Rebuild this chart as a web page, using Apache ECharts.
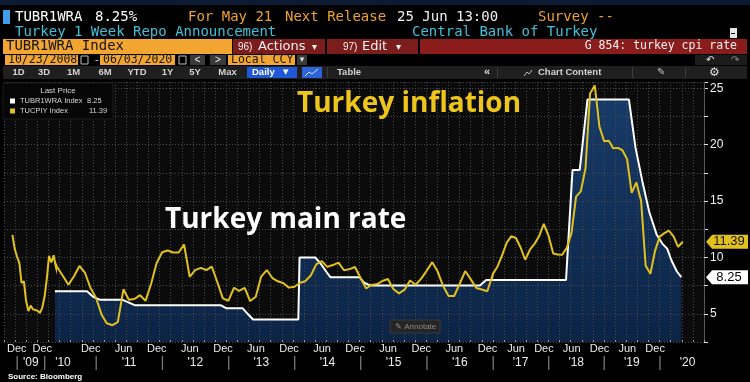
<!DOCTYPE html>
<html><head><meta charset="utf-8">
<script src="https://cdn.jsdelivr.net/npm/echarts@6/dist/echarts.min.js"></script>
<style>html,body{margin:0;padding:0;background:#000;}#c{width:750px;height:382px;}</style>
</head><body><div id="c"></div>
<script>
// ---------- DATA ----------
// TUCPIY Index (Turkey CPI YoY %), monthly observations (month-end)
const cpiFirstMonth = '2008-10';
const cpi2008 = [11.99, 10.76, 10.06];
const cpi2009 = [9.50, 7.73, 7.89, 6.13, 5.24, 5.73, 5.39, 5.33, 5.27, 5.08, 5.53, 6.53];
const cpi2010 = [8.19, 10.13, 9.56, 10.19, 9.10, 8.37, 7.58, 8.33, 9.24, 8.62, 7.29, 6.40];
const cpi2011 = [4.90, 4.16, 3.99, 4.26, 7.17, 6.24, 6.31, 6.65, 6.15, 7.66, 9.48, 10.45];
const cpi2012 = [10.61, 10.43, 10.43, 11.14, 8.28, 8.87, 9.07, 8.88, 9.19, 7.80, 6.37, 6.16];
const cpi2013 = [7.31, 7.03, 7.29, 6.13, 6.51, 8.30, 8.88, 8.17, 7.88, 7.71, 7.32, 7.40];
const cpi2014 = [7.75, 7.89, 8.39, 9.38, 9.66, 9.16, 9.32, 9.54, 8.86, 8.96, 9.15, 8.17];
const cpi2015 = [7.24, 7.55, 7.61, 7.91, 8.09, 7.20, 6.81, 7.14, 7.95, 7.58, 8.10, 8.81];
const cpi2016 = [9.58, 8.78, 7.46, 6.57, 6.58, 7.64, 8.79, 8.05, 7.28, 7.16, 7.00, 8.53];
const cpi2017 = [9.22, 10.13, 11.29, 11.87, 11.72, 10.90, 9.79, 10.68, 11.20, 11.90, 12.98, 11.92];
const cpi2018 = [10.35, 10.26, 10.23, 10.85, 12.15, 15.39, 15.85, 17.90, 24.52, 25.24, 21.62, 20.30];
const cpi2019 = [20.35, 19.67, 19.71, 19.50, 18.71, 15.72, 16.65, 15.01, 9.26, 8.55, 10.56, 11.84];
const cpi2020 = [12.15, 12.37, 11.86, 10.94, 11.39];

// TUBR1WRA Index (Turkey 1 Week Repo announcement), observation dates and values
const rateDates = ['2010-05-18','2010-11-11','2010-12-16','2011-01-20','2011-05-24','2011-08-04',
  '2012-11-20','2012-12-18','2013-03-19','2013-04-16','2013-05-16','2014-01-21','2014-01-28',
  '2014-04-24','2014-05-22','2014-06-24','2014-07-17','2014-12-25','2015-01-20','2015-02-24',
  '2016-10-20','2016-11-24','2018-04-25','2018-06-01','2018-06-07','2018-07-24','2018-09-13',
  '2019-06-12','2019-07-25','2019-09-12','2019-10-24','2019-12-12','2020-01-16','2020-02-19',
  '2020-03-17','2020-04-22','2020-05-21'];
const rateValues = [7.00,7.00,6.50,6.25,6.25,5.75,
  5.75,5.50,5.50,5.00,4.50,4.50,10.00,
  10.00,9.50,8.75,8.25,8.25,7.75,7.50,
  7.50,8.00,8.00,16.50,17.75,17.75,24.00,
  24.00,19.75,16.50,14.00,12.00,11.25,10.75,
  9.75,8.75,8.25];

// Axis settings
const yMin = 2.5, yMax = 25.55, yStep = 2.5;
// Bloomberg point-based axis: three time segments of different density
const segStarts = ['2008-10-23', '2010-05-18', '2016-12-31T12'];
const segEnds   = ['2010-05-18', '2016-12-31T12', '2020-10-17'];
const segLeft   = [4, 55, 493];
const segWidth  = [51, 438, 211];

// ---------- BUILD ----------
function parseD(s){
  const [dp, hp] = s.split('T');
  const p = dp.split('-').map(Number);
  return new Date(p[0], p[1]-1, p[2] || 1, hp ? Number(hp) : 0).getTime();
}
const cpiYears = [cpi2008,cpi2009,cpi2010,cpi2011,cpi2012,cpi2013,cpi2014,cpi2015,cpi2016,cpi2017,cpi2018,cpi2019,cpi2020];
const cpiData = [];
{
  let y = Number(cpiFirstMonth.slice(0,4)), m = Number(cpiFirstMonth.slice(5)) - 1;
  cpiYears.forEach(arr => arr.forEach(v => {
    cpiData.push([new Date(y, m + 1, 0).getTime(), v]);
    m++; if (m > 11) { m = 0; y++; }
  }));
}
const rateData = rateDates.map((d,i) => [parseD(d), rateValues[i]]);
const lastDataMs = cpiData[cpiData.length-1][0];

const FS = '"Liberation Sans", Arial, sans-serif';
const FM = '"DejaVu Sans Mono", monospace';
const FD = '"DejaVu Sans", sans-serif';
const YEL = '#e2c11f';

function xFmt(v){
  const d = new Date(v);
  if (d.getDate() !== 1 || d.getHours() !== 0 || d.getMinutes() !== 0) return '';
  const m = d.getMonth(), y = d.getFullYear();
  if (m === 0) return '{m| }\n{s||}';
  if (m === 6) return "{m| }\n{y|'" + String(y).slice(2) + "}";
  if (v >= lastDataMs) return '';
  if (m === 11) return y === 2008 ? '{m0|Dec}' : '{m|Dec}';
  if (m === 5 && y >= 2011) return '{m|Jun}';
  return '';
}
const xRich = {
  m: {color:'#ececec', fontSize:11, lineHeight:14, fontFamily:FS},
  m0: {color:'#ececec', fontSize:11, lineHeight:14, fontFamily:FS, padding:[0,0,0,4]},
  y: {color:'#ececec', fontSize:12, lineHeight:14, fontFamily:FS},
  s: {color:'#7c7c7c', fontSize:15, lineHeight:14, fontFamily:FS}
};

const grids = [], xAxes = [], yAxes = [], series = [];
const areaColor = new echarts.graphic.LinearGradient(0,0,0,1,[
  {offset:0, color:'#173a68'}, {offset:1, color:'#0c2446'}]);
for (let i = 0; i < 3; i++) {
  grids.push({left: segLeft[i], width: segWidth[i], top: 82, height: 260, show: false});
  xAxes.push({
    type:'time', gridIndex:i, min: parseD(segStarts[i]), max: parseD(segEnds[i]),
    minInterval: 32*86400000, maxInterval: 32*86400000,
    axisLine:{show:false}, axisTick:{show:false}, splitLine:{show:false},
    axisLabel:{show:true, margin:0, hideOverlap:false, formatter:xFmt, rich:xRich,
      showMinLabel:true, showMaxLabel:true}
  });
  const yA = {type:'value', gridIndex:i, min:yMin, max:yMax, interval:yStep,
    splitLine:{show:false}, show: i === 2};
  if (i === 2) {
    Object.assign(yA, {position:'right',
      axisLine:{show:true, lineStyle:{color:'#5e5e5e', width:1}},
      axisTick:{show:true, length:4, lineStyle:{color:'#e0e0e0'}},
      axisLabel:{color:'#f2f2f2', fontSize:12, fontFamily:FS, margin:6,
        formatter: v => (Math.abs(v % 5) < 1e-9 ? String(v) : '')}});
  }
  yAxes.push(yA);
  series.push({type:'line', name:'rate area', xAxisIndex:i, yAxisIndex:i, data:rateData,
    symbol:'none', lineStyle:{width:0, opacity:0}, areaStyle:{origin:'start', color:areaColor, opacity:1},
    z:1, silent:true, animation:false, clip:true});
  const rateLine = {type:'line', name:'TUBR1WRA Index', xAxisIndex:i, yAxisIndex:i, data:rateData,
    symbol:'none', lineStyle:{color:'#ffffff', width:2}, itemStyle:{color:'#ffffff'},
    z:4, silent:true, animation:false, clip:true};
  const cpiLine = {type:'line', name:'TUCPIY Index', xAxisIndex:i, yAxisIndex:i, data:cpiData,
    symbol:'none', lineStyle:{color:YEL, width:2}, itemStyle:{color:YEL},
    z:5, silent:true, animation:false, clip:true};
  if (i === 2) {
    const tag = 'path://M0,7 L7,0 L48,0 L48,14 L7,14 Z';
    const xEnd = parseD(segEnds[2]);
    rateLine.markPoint = {symbol:tag, symbolSize:[42,14], symbolOffset:[23,0], silent:true, animation:false,
      itemStyle:{color:'#ffffff'},
      label:{show:true, position:'inside', offset:[2,0], color:'#000', fontSize:13, fontFamily:FS, formatter:'{c}'},
      data:[{coord:[xEnd, rateValues[rateValues.length-1]], value: rateValues[rateValues.length-1].toFixed(2)}]};
    const lastCpi = cpiData[cpiData.length-1][1];
    cpiLine.markPoint = {symbol:tag, symbolSize:[42,14], symbolOffset:[23,0], silent:true, animation:false,
      itemStyle:{color:YEL},
      label:{show:true, position:'inside', offset:[2,0], color:'#111', fontSize:13, fontFamily:FS, formatter:'{c}'},
      data:[{coord:[xEnd, lastCpi], value: lastCpi.toFixed(2)}]};
  }
  series.push(rateLine, cpiLine);
}
// background grid: plot background and dotted grid
grids.push({left:4, width:700, top:82, height:260, show:true, backgroundColor:'#0b0b0b', borderWidth:0});
xAxes.push({type:'value', gridIndex:3, min:0, max:63, interval:1, z:3,
  axisLine:{show:false}, axisLabel:{show:false},
  axisTick:{show:true, inside:true, length:2, lineStyle:{color:'#9a9a9a'}},
  splitLine:{show:true, lineStyle:{color:'#4a4a4a', width:1, type:[1,2]}}});
yAxes.push({type:'value', gridIndex:3, min:yMin, max:yMax, interval:yStep, z:3,
  axisLine:{show:false}, axisLabel:{show:false}, axisTick:{show:false},
  splitLine:{show:true, lineStyle:{color:'#4a4a4a', width:1, type:[1,2]}}});

// ---------- GRAPHICS (terminal chrome & annotations) ----------
const G = [];
function R(x,y,w,h,fill,extra){ G.push(Object.assign({type:'rect', shape:{x,y,width:w,height:h}, style:{fill}, z:10, silent:true}, extra||{})); }
function T(x,y,text,fill,font,align){ G.push({type:'text', x, y, z:11, silent:true,
  style:{text, fill, font, align:align||'left', textAlign:align||'left', verticalAlign:'middle', textVerticalAlign:'middle'}}); }

R(0,0,750,5,'#0c1a33');
R(3,10,7,14,'#3f9fe8');
T(15,17,'TUBR1WRA','#ffffff','14px '+FM);
T(95,17,'8.25%','#ffffff','14px '+FM);
T(188,17,'For May 21','#f0a22a','14px '+FM);
T(285,17,'Next Release','#f0a22a','14px '+FM);
T(397,17,'25 Jun 13:00','#f0f0f0','14px '+FM);
T(538,17,'Survey --','#f0a22a','14px '+FM);
T(15,32.5,'Turkey 1 Week Repo Announcement','#3ec0d8','14px '+FM);
T(412,32.5,'Central Bank of Turkey','#3ec0d8','14px '+FM);
R(730,28,7,10,'#e6e6e6');
R(731,33,4,1,'#000');

R(3,39,229,15,'#f2a531');
T(6,46.5,'TUBR1WRA Index','#141414','14px '+FM);
R(233,39,92,15,'#7c1d1d');
T(238,47,'96)','#f0f0f0','10px '+FS);
T(258,46.5,'Actions','#f0f0f0','13px '+FD);
T(312,47,'▾','#f0f0f0','10px '+FD);
R(327,39,91,15,'#7c1d1d');
T(343,47,'97)','#f0f0f0','10px '+FS);
T(362,46.5,'Edit','#f0f0f0','13px '+FD);
T(396,47,'▾','#f0f0f0','10px '+FD);
R(420,39,327,15,'#8b1c1c');
T(737,46.5,'G 854: turkey cpi rate','#f2f2f2','11.5px '+FM,'right');

R(5,55,73,10,'#f2a531');
T(8,60,'10/23/2008','#141414','11.5px '+FM);
R(81,56,7,8,'none',{style:{fill:'none', stroke:'#bbbbbb', lineWidth:1}});
T(95,60,'-','#dddddd','11px '+FS);
R(100,55,75,10,'#f2a531');
T(103,60,'06/03/2020','#141414','11.5px '+FM);
R(179,56,7,8,'none',{style:{fill:'none', stroke:'#bbbbbb', lineWidth:1}});
R(190,55,15,10,'#3a3a3a');
T(197.5,60,'<','#eeeeee','10px '+FS,'center');
R(210,55,16,10,'#3a3a3a');
T(218,60,'>','#eeeeee','10px '+FS,'center');
R(228,55,67,10,'#f2a531');
T(231,60,'Local CCY','#141414','11.5px '+FM);
R(297,55,10,10,'#3a3a3a');
T(302,60,'▾','#dddddd','9px '+FD,'center');
R(695,55,52,10,'#1c1c1c');
T(706,60,'↶','#e8e8e8','10px '+FD);
T(731,60,'↷','#8a8a8a','10px '+FD);

R(3,66,744,13,'#1f1f1f');
const tb = [['1D',18.5],['3D',44],['1M',73.5],['6M',105],['YTD',137],['1Y',167.5],['5Y',195],['Max',227.5]];
tb.forEach(([t,x]) => T(x,72.5,t,'#d2d2d2','bold 9.5px '+FS,'center'));
R(247,67,50,11,'#1f57d6');
T(252,72.5,'Daily','#ffffff','bold 9.5px '+FS);
T(283,72.5,'▼','#ffffff','7px '+FD);
R(302,67,20,11,'#2d63d8');
G.push({type:'polyline', z:11, silent:true, shape:{points:[[305,76],[309,72],[312,74],[318,69]]}, style:{stroke:'#d8e6ff', lineWidth:1, fill:null}});
R(327,67,1,11,'#3c3c3c');
T(337,72.5,'Table','#d2d2d2','bold 9.5px '+FS);
T(484,72,'«','#dddddd','bold 11px '+FS);
R(497,67,1,11,'#3c3c3c');
G.push({type:'polyline', z:11, silent:true, shape:{points:[[524,76],[527,72],[529,74],[532,70]]}, style:{stroke:'#bbbbbb', lineWidth:1, fill:null}});
T(538,72.5,'Chart Content','#d2d2d2','bold 9.5px '+FS);
R(632,67,1,11,'#3c3c3c');
T(657,72.5,'✎','#bbbbbb','10px '+FD);
R(685,67,1,11,'#3c3c3c');
T(709,72.5,'⚙','#dddddd','12px '+FD);

// legend box
R(3,83,110,36,'#060606',{style:{fill:'#060606', stroke:'#1c1c1c', lineWidth:1}});
T(58,91,'Last Price','#d8d8d8','8px '+FS,'center');
T(87,100.5,rateValues[rateValues.length-1].toFixed(2),'#d8d8d8','7.5px '+FS);
T(89,110.5,cpiData[cpiData.length-1][1].toFixed(2),'#d8d8d8','7.5px '+FS);

// annotations
T(297,104,'Turkey inflation','#eec61b','bold 28px "Open Sans", '+FS);
T(165,220,'Turkey main rate','#ffffff','bold 28px "Open Sans", '+FS);

// annotate button
R(390,320,50,13,'#252525',{style:{fill:'#252525', stroke:'#3a3a3a', lineWidth:1}});
T(395,326.5,'✎ Annotate','#8a8a8a','8px '+FS);

// source
T(8,377,'Source: Bloomberg','#ffffff','bold 8px '+FS);

const option = {
  backgroundColor:'#000000',
  animation:false,
  grid: grids, xAxis: xAxes, yAxis: yAxes, series,
  legend: {data:['TUBR1WRA Index','TUCPIY Index'], orient:'vertical', left:10, top:96,
    itemWidth:5, itemHeight:5, itemGap:0, icon:'rect', selectedMode:false, padding:0, z:20,
    textStyle:{color:'#d8d8d8', fontSize:7.5, fontFamily:FS, lineHeight:10}},
  graphic: G
};
const chart = echarts.init(document.getElementById('c'), null, {width:750, height:382});
chart.setOption(option);
</script>
</body></html>
